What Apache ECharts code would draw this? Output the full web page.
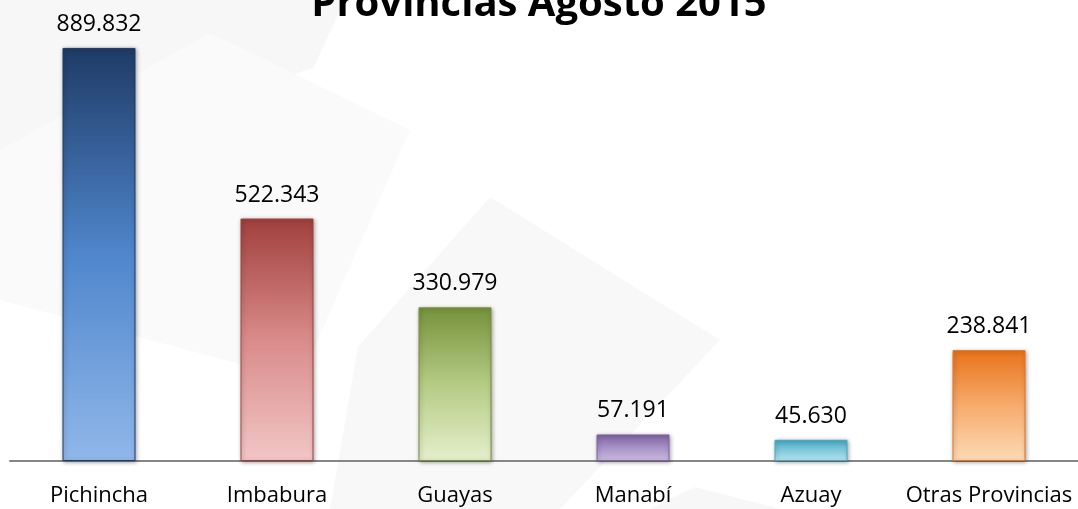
<!DOCTYPE html>
<html lang="es">
<head>
  <meta charset="UTF-8">
  <title>Provincias Agosto 2015</title>
  <style>
    html, body { margin: 0; padding: 0; background: #fff; }
  </style>
</head>
<body>
  <div class="wrapper" style="width:1078px;height:509px;"></div>

  <script src="https://cdn.jsdelivr.net/npm/echarts@6/dist/echarts.min.js"></script>
  <script>
    const provincias = ['Pichincha', 'Imbabura', 'Guayas', 'Manabí', 'Azuay', 'Otras Provincias']
    const valores = [889.832, 522.343, 330.979, 57.191, 45.630, 238.841]
    const etiquetas = ['889.832', '522.343', '330.979', '57.191', '45.630', '238.841']
    // colores de cada barra: arriba, medio, abajo
    const colores = [
      ['#1f3b66', '#4f86cc', '#90b7ea'],
      ['#a0403e', '#d98b8a', '#f2c6c6'],
      ['#76923b', '#b4cb84', '#e5efcc'],
      ['#7f63a1', '#a892c6', '#cbbce0'],
      ['#46a9c4', '#80c9dc', '#b8e4f0'],
      ['#e8731a', '#f7ab6c', '#fddab6']
    ]

    const echart = echarts.init(document.querySelector('.wrapper'))
    const font = 'Open Sans'

    const data = valores.map((v, i) => ({
      value: v,
      itemStyle: {
        color: {
          type: 'linear', x: 0, y: 0, x2: 0, y2: 1,
          colorStops: [
            { offset: 0, color: colores[i][0] },
            { offset: 0.5, color: colores[i][1] },
            { offset: 1, color: colores[i][2] }
          ]
        },
        borderColor: colores[i][0],
        borderWidth: 1
      }
    }))

    const option = {
      backgroundColor: '#ffffff',
      // formas grises de fondo de la plantilla
      graphic: [
        { type: 'polygon', z: -10, silent: true, shape: { points: [[0, 0], [345, 0], [313, 68], [0, 170]] }, style: { fill: '#f7f7f8' } },
        { type: 'polygon', z: -10, silent: true, shape: { points: [[210, 33], [410, 130], [300, 380], [0, 300], [0, 150]] }, style: { fill: '#fafafb' } },
        { type: 'polygon', z: -10, silent: true, shape: { points: [[490, 197], [720, 340], [560, 509], [330, 509], [358, 347]] }, style: { fill: '#f8f8f9' } },
        { type: 'polygon', z: -10, silent: true, shape: { points: [[695, 487], [780, 509], [650, 509]] }, style: { fill: '#f7f7f8' } }
      ],
      title: {
        text: 'Provincias Agosto 2015',
        left: 'center',
        top: -20,
        textStyle: { fontFamily: font, fontSize: 40, fontWeight: 'bold', color: '#000' }
      },
      grid: { left: 10, right: 0, top: 20, bottom: 48 },
      xAxis: {
        type: 'category',
        data: provincias,
        axisLine: { lineStyle: { color: '#868686', width: 2 } },
        axisTick: { show: false },
        axisLabel: { interval: 0, fontFamily: font, fontSize: 22, color: '#000', margin: 24 }
      },
      yAxis: {
        type: 'value',
        min: 0,
        max: 950,
        show: false,
        splitLine: { show: false }
      },
      series: [{
        type: 'bar',
        barWidth: 73,
        data: data,
        itemStyle: {
          shadowColor: 'rgba(0,0,0,0.35)',
          shadowBlur: 4,
          shadowOffsetX: 1,
          shadowOffsetY: 1
        },
        label: {
          show: true,
          position: 'top',
          distance: 12,
          fontFamily: font,
          fontSize: 23,
          color: '#000',
          formatter: p => etiquetas[p.dataIndex]
        }
      }],
      animation: false
    }

    echart.setOption(option)
  </script>
</body>
</html>
